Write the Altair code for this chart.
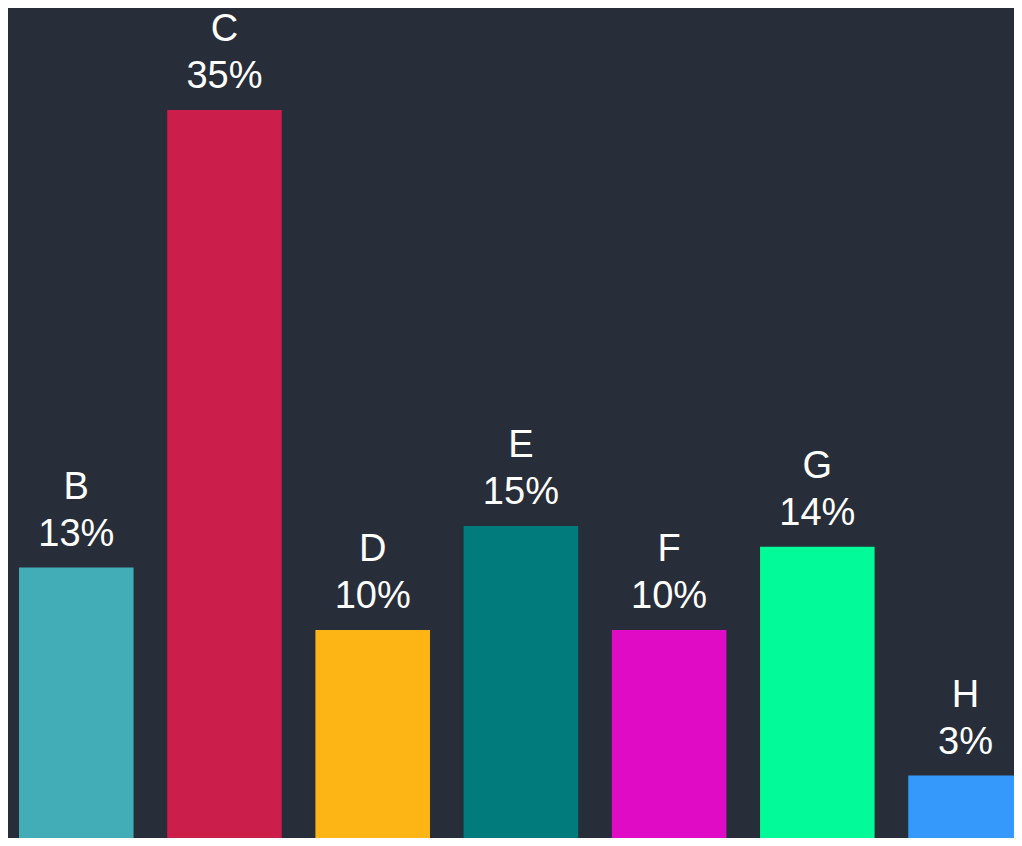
import altair as alt
import pandas as pd

categories = ["B", "C", "D", "E", "F", "G", "H"]
values = [13, 35, 10, 15, 10, 14, 3]
labels = ["13%", "35%", "10%", "15%", "10%", "14%", "3%"]
colors = ["#42adb7", "#cc1e4a", "#fdb515", "#017b7b", "#df0bc5", "#02fa98", "#3599fc"]

df = pd.DataFrame({"cat": categories, "val": values, "label": labels})

x = alt.X("cat:N", sort=categories, axis=None,
          scale=alt.Scale(paddingInner=0.227, paddingOuter=0, range=[11, 1014.8]))
y = alt.Y("val:Q", axis=None,
          scale=alt.Scale(domain=[0, 39.9], nice=False, zero=True))
color = alt.Color("cat:N", scale=alt.Scale(domain=categories, range=colors), legend=None)

bars = alt.Chart(df).mark_bar().encode(x=x, y=y, color=color)

font = "Liberation Sans"
pct = alt.Chart(df).mark_text(baseline="alphabetic", dy=-22, fontSize=38,
                               font=font, color="white").encode(
    x=x, y=y, text="label:N")
letter = alt.Chart(df).mark_text(baseline="alphabetic", dy=-69, fontSize=38,
                                  font=font, color="white").encode(
    x=x, y=y, text="cat:N")

chart = alt.layer(bars, pct, letter).properties(
    width=1006, height=830, padding=0, background="#282e39",
    autosize=alt.AutoSizeParams(type="none")
).configure_view(stroke=None)

chart.save("out.html", embed_options={"renderer": "svg", "actions": False})
